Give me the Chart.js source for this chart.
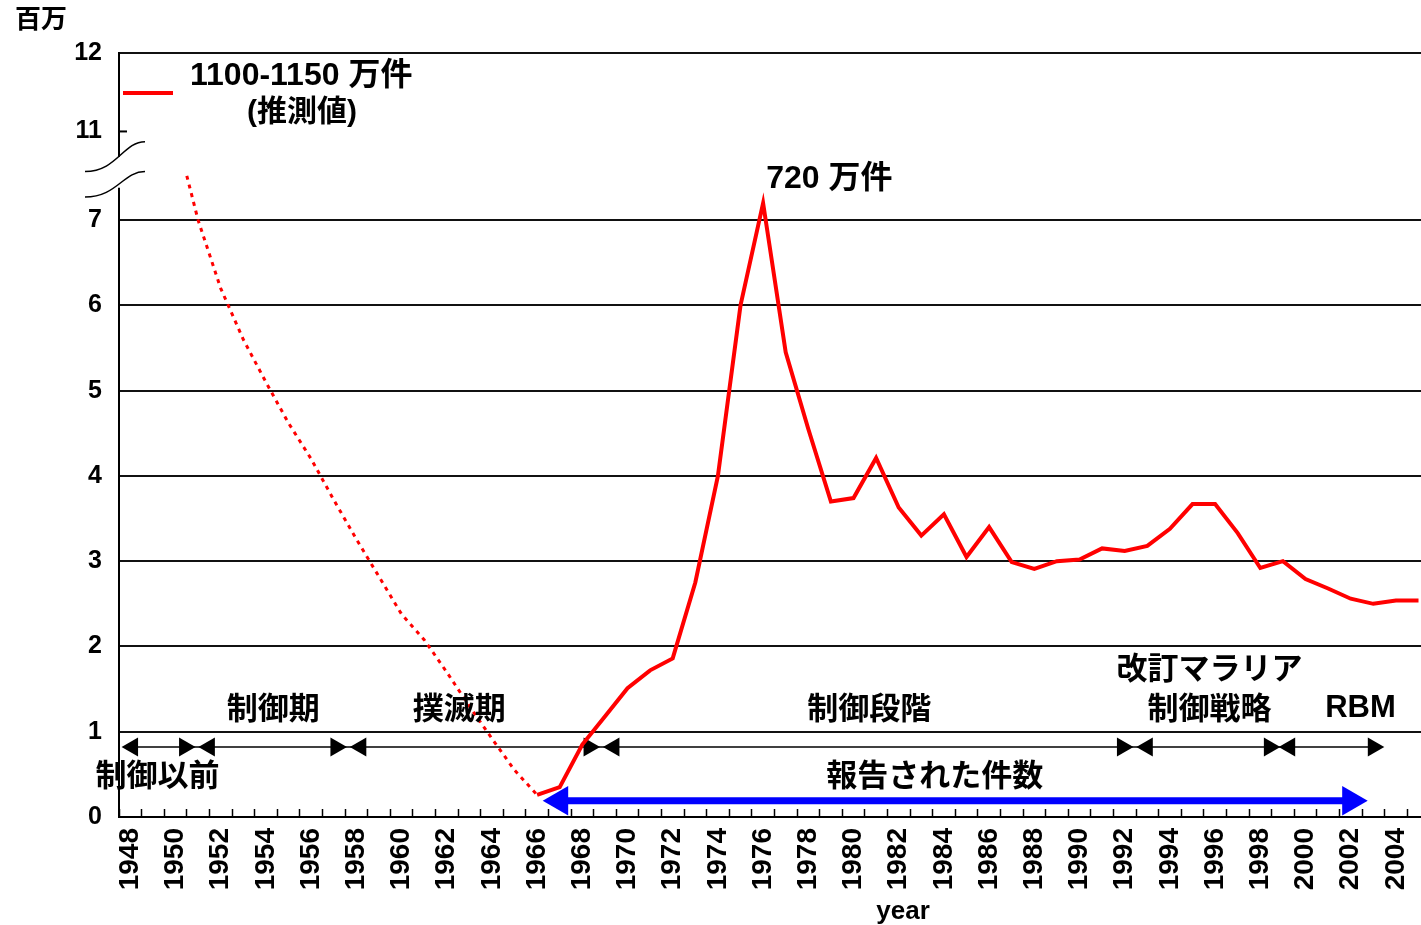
<!DOCTYPE html>
<html>
<head>
<meta charset="utf-8">
<script src="https://cdn.jsdelivr.net/npm/chart.js@4.4.1/dist/chart.umd.min.js"></script>
<style>
  html, body { margin: 0; padding: 0; background: #fff; overflow: hidden; }
</style>
</head>
<body>
<canvas id="malaria" width="1421" height="925"></canvas>
<script>
const FONT = '"Liberation Sans", Arial, "Noto Sans CJK JP", sans-serif';

// reported cases, millions (solid red line)
const reportedYears = [1966, 1967, 1968, 1969, 1970, 1971, 1972, 1973, 1974, 1975,
                       1976, 1977, 1978, 1979, 1980, 1981, 1982, 1983, 1984, 1985,
                       1986, 1987, 1988, 1989, 1990, 1991, 1992, 1993, 1994, 1995,
                       1996, 1997, 1998, 1999, 2000, 2001, 2002, 2003, 2004, 2005];
const reportedCases = [0.26, 0.35, 0.85, 1.18, 1.51, 1.72, 1.86, 2.75, 4.0, 6.0,
                       7.2, 5.45, 4.55, 3.7, 3.74, 4.21, 3.63, 3.3, 3.55, 3.05,
                       3.4, 2.99, 2.91, 3.0, 3.02, 3.15, 3.12, 3.18, 3.38, 3.67,
                       3.67, 3.33, 2.92, 3.0, 2.79, 2.68, 2.56, 2.5, 2.54, 2.54];

// estimated cases before eradication (dotted red line)
const estimatedYears = [1950.5, 1951, 1952, 1953, 1954, 1955, 1956, 1957, 1958,
                        1959, 1960, 1961, 1962, 1963, 1964, 1965, 1966];
const estimatedCases = [7.52, 7.0, 6.2, 5.6, 5.1, 4.62, 4.2, 3.72, 3.26,
                        2.82, 2.38, 2.08, 1.7, 1.3, 0.92, 0.55, 0.26];

// phase boundaries on the black arrow line (-1 = points left, 1 = points right)
const phaseArrowYears = [1948.1, 1950.4, 1951.5, 1957.1, 1958.2, 1968.3, 1969.4,
                         1991.9, 1993.0, 1998.4, 1999.3, 2003.0];
const phaseArrowDir = [-1, 1, -1, 1, -1, 1, -1, 1, -1, 1, -1, 1];
const phaseLevel = 0.82;

// span of reported figures (blue arrow)
const reportedSpan = [1967, 2002];
const spanLevel = 0.19;

// y axis is broken between 7 and 11
const yTickValues = [0, 1, 2, 3, 4, 5, 6, 7, 8.04, 8.96];
const yTickLabels = ['0', '1', '2', '3', '4', '5', '6', '7', '11', '12'];

const notes = [
  ['制御期', 1954.33, 1.25],
  ['撲滅期', 1962.56, 1.25],
  ['制御段階', 1980.7, 1.25],
  ['改訂マラリア', 1995.75, 1.72],
  ['制御戦略', 1995.75, 1.25],
  ['RBM', 2002.43, 1.27],
  ['制御以前', 1949.2, 0.46],
  ['報告された件数', 1983.6, 0.46]
];

const decor = {
  id: 'decor',
  afterDraw(chart) {
    const { ctx, chartArea: a, scales: { x, y } } = chart;
    ctx.save();

    // axis break
    const top = y.getPixelForValue(7.74), bot = y.getPixelForValue(7.38);
    ctx.fillStyle = '#fff';
    ctx.fillRect(a.left - 3, top, 6, bot - top);
    ctx.strokeStyle = '#000';
    ctx.lineWidth = 1.5;
    [[7.57, 7.92], [7.27, 7.57]].forEach(([v0, v1]) => {
      const y0 = y.getPixelForValue(v0), y1 = y.getPixelForValue(v1);
      ctx.beginPath();
      ctx.moveTo(a.left - 34, y0);
      ctx.bezierCurveTo(a.left - 2, y0, a.left + 4, y1, a.left + 26, y1);
      ctx.stroke();
    });
    // small tick for 11
    ctx.lineWidth = 2;
    ctx.beginPath();
    ctx.moveTo(a.left, y.getPixelForValue(8.04));
    ctx.lineTo(a.left + 8, y.getPixelForValue(8.04));
    ctx.stroke();

    // legend
    ctx.strokeStyle = '#ff0000';
    ctx.lineWidth = 4;
    ctx.beginPath();
    ctx.moveTo(a.left + 4, a.top + 40);
    ctx.lineTo(a.left + 54, a.top + 40);
    ctx.stroke();

    ctx.fillStyle = '#000';
    ctx.textBaseline = 'middle';
    ctx.font = 'bold 32px ' + FONT;
    ctx.textAlign = 'left';
    ctx.fillText('1100-1150 万件', a.left + 71, a.top + 23);
    ctx.textAlign = 'center';
    ctx.font = 'bold 30px ' + FONT;
    ctx.fillText('(推測値)', a.left + 183, a.top + 60);
    ctx.font = 'bold 32px ' + FONT;
    ctx.fillText('720 万件', x.getPixelForValue(1978.93), y.getPixelForValue(7.48));

    ctx.font = 'bold 31px ' + FONT;
    notes.forEach(([t, yr, v]) => ctx.fillText(t, x.getPixelForValue(yr), y.getPixelForValue(v)));

    ctx.font = 'bold 26px ' + FONT;
    ctx.fillText('百万', 41, 21);
    ctx.fillText('year', 903, 912);
    ctx.restore();
  }
};

new Chart(document.getElementById('malaria'), {
  type: 'line',
  data: {
    datasets: [
      {
        data: reportedYears.map((yr, i) => ({ x: yr, y: reportedCases[i] })),
        borderColor: '#ff0000',
        borderWidth: 4,
        pointRadius: 0,
        tension: 0
      },
      {
        data: estimatedYears.map((yr, i) => ({ x: yr, y: estimatedCases[i] })),
        borderColor: '#ff0000',
        borderWidth: 3,
        borderDash: [4, 5],
        pointRadius: 0,
        tension: 0
      },
      {
        data: phaseArrowYears.map(yr => ({ x: yr, y: phaseLevel })),
        borderColor: '#000',
        borderWidth: 1.5,
        pointStyle: 'triangle',
        pointRadius: 11,
        pointRotation: phaseArrowDir.map(d => d > 0 ? 90 : 270),
        pointBackgroundColor: '#000',
        pointBorderWidth: 0,
        clip: false
      },
      {
        data: reportedSpan.map(yr => ({ x: yr, y: spanLevel })),
        borderColor: '#0000ff',
        borderWidth: 7,
        pointStyle: 'triangle',
        pointRadius: 17,
        pointRotation: [270, 90],
        pointBackgroundColor: '#0000ff',
        pointBorderWidth: 0,
        clip: false
      }
    ]
  },
  options: {
    responsive: false,
    animation: false,
    devicePixelRatio: 1,
    events: [],
    layout: { autoPadding: false, padding: { top: 53, left: 0, right: 0, bottom: 0 } },
    plugins: {
      legend: { display: false },
      tooltip: { enabled: false }
    },
    scales: {
      x: {
        type: 'linear',
        min: 1947.5,
        max: 2005.11,
        afterFit(s) { s.height = 108; s.paddingLeft = 0; s.paddingRight = 0; },
        border: { display: true, color: '#000', width: 2 },
        grid: {
          offset: true,
          drawOnChartArea: false,
          drawTicks: true,
          tickLength: -8,
          tickColor: '#000',
          tickWidth: 1.5
        },
        ticks: {
          stepSize: 1,
          autoSkip: false,
          includeBounds: false,
          minRotation: 90,
          maxRotation: 90,
          padding: 19,
          color: '#000',
          font: { family: FONT, size: 28, weight: 'bold' },
          callback: v => (v % 2 === 0 ? String(v) : '')
        }
      },
      y: {
        min: 0,
        max: 8.96,
        afterFit(s) { s.width = 119; s.paddingTop = 0; s.paddingBottom = 0; },
        afterBuildTicks(s) { s.ticks = yTickValues.map(v => ({ value: v })); },
        border: { display: true, color: '#000', width: 2 },
        grid: {
          drawTicks: false,
          lineWidth: 2,
          color: c => (c.tick && c.tick.value > 8 && c.tick.value < 8.5 ? 'rgba(0,0,0,0)' : '#111')
        },
        ticks: {
          padding: 17,
          color: '#000',
          font: { family: FONT, size: 25, weight: 'bold' },
          callback: (v, i) => yTickLabels[i]
        }
      }
    }
  },
  plugins: [decor]
});
</script>
</body>
</html>
